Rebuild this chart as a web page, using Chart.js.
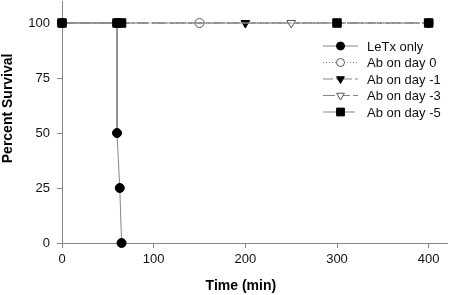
<!DOCTYPE html>
<html>
<head>
<meta charset="utf-8">
<script src="https://cdn.jsdelivr.net/npm/chart.js@4"></script>
<style>
  html, body { margin: 0; padding: 0; background: #fff; }
  #wrap { width: 450px; height: 295px; }
</style>
</head>
<body>
<div id="wrap"><canvas id="survival-chart" width="450" height="295"></canvas></div>
<script>
// survival curves, time in minutes / percent alive
var letxTime      = [0, 60, 60, 63, 65];
var letxSurvival  = [100, 100, 50, 25, 0];
var day0Time      = [0, 150, 400];
var day0Survival  = [100, 100, 100];
var day1Time      = [0, 200, 400];
var day1Survival  = [100, 100, 100];
var day3Time      = [0, 250, 400];
var day3Survival  = [100, 100, 100];
var day5Time      = [0, 60, 65, 300, 400];
var day5Survival  = [100, 100, 100, 100, 100];

var seriesLabels = ['LeTx only', 'Ab on day 0', 'Ab on day -1', 'Ab on day -3', 'Ab on day -5'];
var xTicks = [0, 100, 200, 300, 400];
var yTicks = [0, 25, 50, 75, 100];

function toPoints(xs, ys) {
    return xs.map(function(x, i) { return { x: x, y: ys[i] }; });
}

var lineGray = '#858585';
var font = 'Liberation Sans, Arial, sans-serif';

var datasets = [
    { label: seriesLabels[0], data: toPoints(letxTime, letxSurvival), order: 0,
      pointStyle: 'circle', pointRadius: 4.5, backgroundColor: '#000', pointBorderColor: '#000',
      borderDash: [] },
    { label: seriesLabels[1], data: toPoints(day0Time, day0Survival), order: 4,
      pointStyle: 'circle', pointRadius: 4.5, backgroundColor: '#fff', pointBorderColor: '#555',
      borderDash: [1, 2] },
    { label: seriesLabels[2], data: toPoints(day1Time, day1Survival), order: 3,
      pointStyle: 'triangle', pointRotation: 180, pointRadius: 5, backgroundColor: '#000', pointBorderColor: '#000',
      borderDash: [10, 3, 3, 3] },
    { label: seriesLabels[3], data: toPoints(day3Time, day3Survival), order: 2,
      pointStyle: 'triangle', pointRotation: 180, pointRadius: 5, backgroundColor: '#fff', pointBorderColor: '#555',
      borderDash: [12, 3] },
    { label: seriesLabels[4], data: toPoints(day5Time, day5Survival), order: 1,
      pointStyle: 'rect', pointRadius: 6, backgroundColor: '#000', pointBorderColor: '#000',
      borderDash: [14, 4] }
];

datasets.forEach(function(ds) {
    ds.showLine = true;
    ds.borderColor = lineGray;
    ds.borderWidth = 1;
    ds.pointBorderWidth = 1;
    ds.pointBackgroundColor = ds.backgroundColor;
    ds.tension = 0;
    ds.clip = false;
});

// legend drawn inside the plot, line sample with marker in the middle
var insideLegend = {
    id: 'insideLegend',
    afterDraw: function(chart) {
        var c = chart.ctx;
        var x0 = 323, x1 = 358, textX = 367, y = 46, step = 16.5;
        chart.data.datasets.forEach(function(ds, i) {
            var yy = y + i * step;
            c.save();
            c.strokeStyle = lineGray;
            c.lineWidth = 1;
            c.setLineDash(ds.borderDash);
            c.beginPath();
            c.moveTo(x0, yy);
            c.lineTo(x1, yy);
            c.stroke();
            c.setLineDash([]);
            c.fillStyle = ds.backgroundColor;
            c.strokeStyle = ds.pointBorderColor;
            Chart.helpers.drawPoint(c, {
                pointStyle: ds.pointStyle,
                rotation: ds.pointRotation || 0,
                radius: ds.pointRadius - 0.5,
                borderWidth: 1
            }, (x0 + x1) / 2, yy);
            c.fillStyle = '#111';
            c.font = '13px ' + font;
            c.textBaseline = 'middle';
            c.fillText(ds.label, textX, yy + 1);
            c.restore();
        });
    }
};

function keepTicks(list) {
    return function(scale) {
        scale.ticks = list.map(function(v) { return { value: v }; });
    };
}

new Chart(document.getElementById('survival-chart'), {
    type: 'scatter',
    data: { datasets: datasets },
    plugins: [insideLegend],
    options: {
        responsive: false,
        animation: false,
        layout: { autoPadding: false, padding: { top: 1, right: 3, left: 0, bottom: 0 } },
        plugins: {
            legend: { display: false },
            tooltip: { enabled: false }
        },
        scales: {
            x: {
                type: 'linear',
                min: 0,
                max: 420,
                afterBuildTicks: keepTicks(xTicks),
                afterFit: function(scale) { scale.height = 52; },
                border: { display: true, color: lineGray, width: 1 },
                grid: { drawOnChartArea: false, drawTicks: true, tickLength: 5, color: lineGray },
                ticks: { color: '#111', font: { family: font, size: 13 }, padding: 4, maxRotation: 0 },
                title: {
                    display: true,
                    // trailing spaces nudge the title left like the original
                    text: 'Time (min)       ',
                    color: '#000',
                    font: { family: font, size: 14, weight: 'bold' },
                    padding: { top: 4, bottom: 0 }
                }
            },
            y: {
                type: 'linear',
                min: 0,
                max: 110,
                afterBuildTicks: keepTicks(yTicks),
                afterFit: function(scale) { scale.width = 62; scale.paddingTop = 0; scale.paddingBottom = 0; },
                border: { display: true, color: lineGray, width: 1 },
                grid: { drawOnChartArea: false, drawTicks: true, tickLength: 5, color: lineGray },
                ticks: { color: '#111', font: { family: font, size: 13 }, padding: 7 },
                title: {
                    display: true,
                    text: '       Percent Survival',
                    color: '#000',
                    font: { family: font, size: 14, weight: 'bold' },
                    padding: { top: 0, bottom: 0 }
                }
            }
        }
    }
});
</script>
</body>
</html>
